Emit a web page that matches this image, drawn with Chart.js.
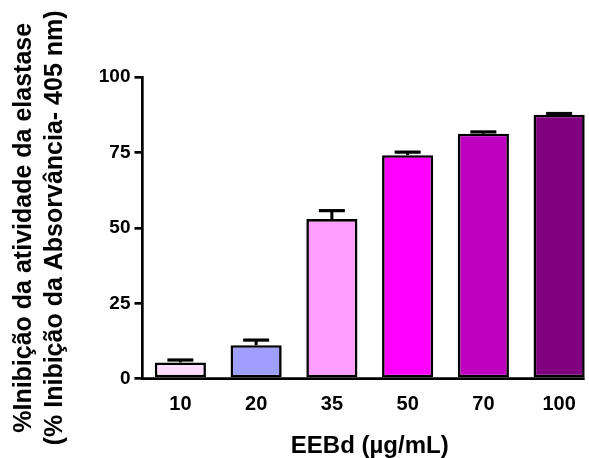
<!DOCTYPE html>
<html>
<head>
<meta charset="UTF-8">
<title>Inibição da elastase</title>
<script src="https://cdn.jsdelivr.net/npm/chart.js"></script>
<style>
  html, body { margin: 0; padding: 0; background: #fff; overflow: hidden; }
  .wrap { width: 597px; height: 458px; }
</style>
</head>
<body>
<div class="wrap"><canvas id="grafico" width="597" height="458"></canvas></div>
<script>
// dados
const concentracoes = ['10', '20', '35', '50', '70', '100'];
const inibicao = [5.4, 11.1, 52.9, 74.1, 81.2, 87.5];
const erroPadrao = [0.8, 1.7, 2.8, 1.0, 0.6, 0.4];
const coresBarras = ['#FFDDFF', '#9F9FFF', '#FF9FFF', '#FF00FF', '#C000C0', '#800080'];
const ticksY = [0, 25, 50, 75, 100];

const fonte = "'Liberation Sans', Arial, sans-serif";

// barras de erro (só para cima) + linha do eixo x até a última barra
const barrasErro = {
  id: 'barrasErro',
  afterDatasetsDraw(chart) {
    const ctx = chart.ctx;
    const yScale = chart.scales.y;
    const meta = chart.getDatasetMeta(0);
    ctx.save();
    ctx.strokeStyle = '#000';
    meta.data.forEach((bar, i) => {
      const yErr = yScale.getPixelForValue(inibicao[i] + erroPadrao[i]);
      ctx.lineWidth = 3;
      ctx.beginPath();
      ctx.moveTo(bar.x, bar.y);
      ctx.lineTo(bar.x, yErr);
      ctx.stroke();
      ctx.lineWidth = 3.2;
      ctx.beginPath();
      ctx.moveTo(bar.x - 13, yErr);
      ctx.lineTo(bar.x + 13, yErr);
      ctx.stroke();
    });
    const ultima = meta.data[meta.data.length - 1];
    const area = chart.chartArea;
    ctx.lineWidth = 2.7;
    ctx.beginPath();
    ctx.moveTo(area.left - 1.35, area.bottom);
    ctx.lineTo(ultima.x + ultima.width / 2, area.bottom);
    ctx.stroke();
    ctx.restore();
  }
};

const ctx = document.getElementById('grafico').getContext('2d');
new Chart(ctx, {
  type: 'bar',
  data: {
    labels: concentracoes,
    datasets: [{
      data: inibicao,
      backgroundColor: coresBarras,
      borderColor: '#000',
      borderWidth: 2.6,
      borderSkipped: false,
      categoryPercentage: 1,
      barPercentage: 0.675
    }]
  },
  options: {
    responsive: false,
    animation: false,
    devicePixelRatio: 1,
    layout: { padding: { top: 77, right: 0, bottom: 0, left: 0 } },
    plugins: { legend: { display: false }, tooltip: { enabled: false } },
    scales: {
      x: {
        grid: { display: false, drawTicks: false },
        border: { display: false },
        ticks: {
          color: '#000',
          padding: 14,
          font: { family: fonte, size: 20, weight: 'bold' }
        },
        title: {
          display: true,
          text: 'EEBd (\u00b5g/mL)',
          color: '#000',
          padding: { top: 0, bottom: 0 },
          font: { family: fonte, size: 24, weight: 'bold', lineHeight: 1 }
        },
        afterFit(scale) { scale.height = 79.3; }
      },
      y: {
        min: 0,
        max: 100,
        afterBuildTicks(scale) { scale.ticks = ticksY.map(v => ({ value: v })); },
        grid: {
          drawOnChartArea: false,
          drawTicks: true,
          tickLength: 8,
          lineWidth: 2.7,
          color: '#000'
        },
        border: { display: true, width: 2.7, color: '#000' },
        ticks: {
          color: '#000',
          padding: 4,
          font: { family: fonte, size: 19, weight: 'bold' }
        },
        title: {
          display: true,
          text: ['%Inibição da atividade da elastase', '(% Inibição da Absorvância- 405 nm)'],
          color: '#000',
          padding: { top: 9, bottom: 0 },
          font: { family: fonte, size: 25, weight: 'bold', lineHeight: 1.22 }
        },
        afterFit(scale) { scale.width = 142.5; }
      }
    }
  },
  plugins: [barrasErro]
});
</script>
</body>
</html>
